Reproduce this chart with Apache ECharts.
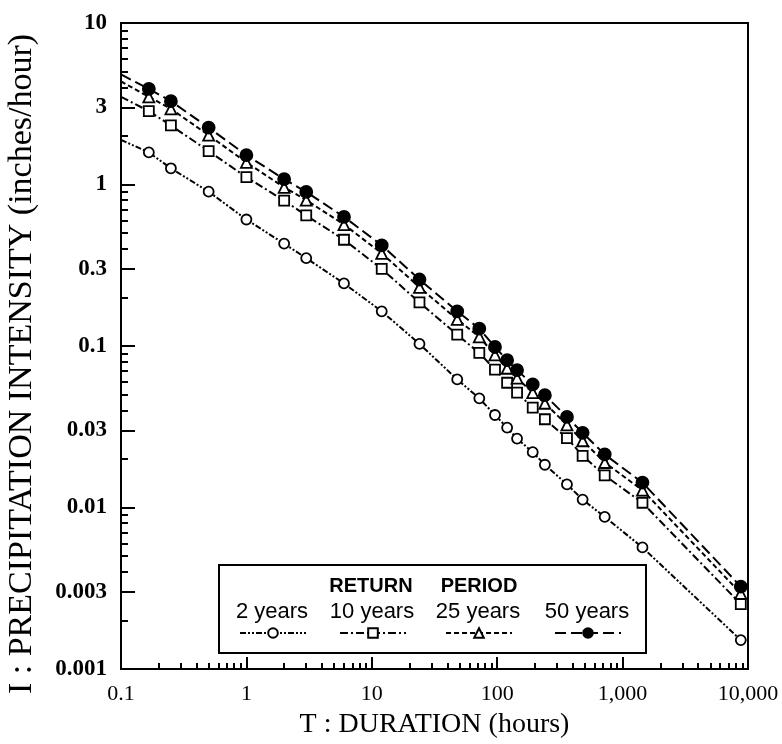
<!DOCTYPE html>
<html>
<head>
<meta charset="utf-8">
<script src="https://cdn.jsdelivr.net/npm/echarts@6/dist/echarts.min.js"></script>
<style>
html,body{margin:0;padding:0;background:#fff;}
#chart{width:782px;height:744px;}
</style>
</head>
<body>
<div id="chart"></div>
<script>
// Durations (hours); first entry (0.1) is the extrapolated start of each line (no marker)
const durations = [0.1, 0.1667, 0.25, 0.5, 1, 2, 3, 6, 12, 24, 48, 72, 96, 120, 144, 192, 240, 360, 480, 720, 1440, 8760];
const years2  = [1.89, 1.58, 1.26, 0.903, 0.607, 0.43, 0.35, 0.244, 0.164, 0.103, 0.0621, 0.0474, 0.0374, 0.0312, 0.0267, 0.022, 0.0184, 0.0139, 0.0112, 0.00874, 0.00566, 0.00151];
const years10 = [3.49, 2.85, 2.32, 1.61, 1.11, 0.795, 0.643, 0.455, 0.30, 0.186, 0.1175, 0.0906, 0.0714, 0.0592, 0.0514, 0.0415, 0.0352, 0.0269, 0.0209, 0.0158, 0.0107, 0.00252];
const years25 = [4.35, 3.49, 2.94, 2.02, 1.37, 0.96, 0.80, 0.565, 0.375, 0.231, 0.146, 0.114, 0.088, 0.0728, 0.0632, 0.0515, 0.0442, 0.0325, 0.0259, 0.019, 0.0128, 0.00294];
const years50 = [4.8, 3.91, 3.28, 2.25, 1.52, 1.08, 0.90, 0.63, 0.42, 0.258, 0.164, 0.128, 0.0986, 0.0817, 0.0709, 0.0578, 0.0496, 0.0364, 0.029, 0.0213, 0.01426, 0.00324];

const seriesNames = ['2 years', '10 years', '25 years', '50 years'];

const xTickValues = [0.1, 1, 10, 100, 1000, 10000];
const xTickLabels = ['0.1', '1', '10', '100', '1,000', '10,000'];
const yTickValues = [0.001, 0.003, 0.01, 0.03, 0.1, 0.3, 1, 3, 10];
const yTickLabels = ['0.001', '0.003', '0.01', '0.03', '0.1', '0.3', '1', '3', '10'];

const minorMult = [2, 3, 4, 5, 6, 7, 8, 9];
const xMinor = [];
[0.1, 1, 10, 100, 1000].forEach(d => minorMult.forEach(m => xMinor.push(+(d * m).toPrecision(6))));
const yMinor = [];
[0.001, 0.01, 0.1, 1].forEach(d => [2, 4, 5, 6, 7, 8, 9].forEach(m => yMinor.push(+(d * m).toPrecision(6))));

function lookup(vals, labels) {
  return function (v) {
    for (let i = 0; i < vals.length; i++) {
      if (Math.abs(Math.log10(v) - Math.log10(vals[i])) < 1e-6) return labels[i];
    }
    return '';
  };
}

function buildData(ys) {
  return durations.map((d, i) => i === 0 ? { value: [d, ys[i]], symbol: 'none' } : [d, ys[i]]);
}

const styles = [
  { values: years2,  symbol: 'circle',   size: 10, fill: '#fff', dash: [6, 2, 2, 2, 2, 2] },
  { values: years10, symbol: 'rect',     size: 10, fill: '#fff', dash: [8, 3, 2, 3] },
  { values: years25, symbol: 'triangle', size: 11, fill: '#fff', dash: [5, 3] },
  { values: years50, symbol: 'circle',   size: 12, fill: '#000', dash: [11, 5] }
];

const series = styles.map((s, k) => ({
  name: seriesNames[k],
  type: 'line',
  xAxisIndex: 0,
  yAxisIndex: 0,
  data: buildData(s.values),
  symbol: s.symbol,
  symbolSize: s.size,
  showAllSymbol: true,
  itemStyle: { color: s.fill, borderColor: '#000', borderWidth: 1.8 },
  lineStyle: { color: '#000', width: 2, type: s.dash },
  z: 3 + k,
  animation: false
}));

const legendCenters = [272, 372, 478, 587];
const legends = seriesNames.map((n, k) => ({
  data: [n],
  left: legendCenters[k] - 33,
  top: 627,
  itemWidth: 66,
  itemHeight: 12,
  padding: 0,
  itemGap: 0,
  formatter: () => '',
  textStyle: { fontSize: 1 },
  selectedMode: false,
  z: 10
}));

const serif = '"Liberation Serif", "Times New Roman", serif';
const sans = '"Liberation Sans", Arial, sans-serif';

const option = {
  backgroundColor: '#fff',
  animation: false,
  grid: { left: 121, right: 34, top: 23, bottom: 71, show: true, borderColor: '#000', borderWidth: 2, backgroundColor: 'transparent' },
  legend: legends,
  xAxis: [
    {
      type: 'log', logBase: 10, min: 0.1, max: 10000, position: 'bottom',
      axisLine: { show: true, lineStyle: { color: '#000', width: 2 } },
      axisTick: { show: true, inside: true, length: 12, customValues: xTickValues, lineStyle: { color: '#000', width: 2 } },
      axisLabel: { show: true, customValues: xTickValues, formatter: lookup(xTickValues, xTickLabels), color: '#000', fontFamily: serif, fontSize: 22, margin: 14 },
      splitLine: { show: false },
      minorTick: { show: false },
      name: 'T : DURATION (hours)', nameLocation: 'middle', nameGap: 42,
      nameTextStyle: { color: '#000', fontFamily: serif, fontSize: 28 }
    },
    {
      type: 'log', logBase: 10, min: 0.1, max: 10000, position: 'bottom', gridIndex: 0,
      axisLine: { show: false },
      axisTick: { show: true, inside: true, length: 6, customValues: xMinor, lineStyle: { color: '#000', width: 2 } },
      axisLabel: { show: false },
      splitLine: { show: false }
    }
  ],
  yAxis: [
    {
      type: 'log', logBase: 10, min: 0.001, max: 10, position: 'left',
      axisLine: { show: true, lineStyle: { color: '#000', width: 2 } },
      axisTick: { show: true, inside: true, length: 14, customValues: yTickValues, lineStyle: { color: '#000', width: 2 } },
      axisLabel: { show: true, customValues: yTickValues, formatter: lookup(yTickValues, yTickLabels), color: '#000', fontFamily: serif, fontWeight: 'bold', fontSize: 23, margin: 14 },
      splitLine: { show: false },
      minorTick: { show: false }
    },
    {
      type: 'log', logBase: 10, min: 0.001, max: 10, position: 'left', gridIndex: 0,
      axisLine: { show: false },
      axisTick: { show: true, inside: true, length: 7, customValues: yMinor, lineStyle: { color: '#000', width: 2 } },
      axisLabel: { show: false },
      splitLine: { show: false }
    }
  ],
  graphic: [
    { type: 'rect', z: 5, shape: { x: 219, y: 565, width: 427, height: 88 }, style: { fill: '#fff', stroke: '#000', lineWidth: 2 } },
    { type: 'text', z: 6, x: 371, y: 586, style: { text: 'RETURN', fill: '#000', font: 'bold 20px ' + sans, textAlign: 'center', textVerticalAlign: 'middle' } },
    { type: 'text', z: 6, x: 479, y: 586, style: { text: 'PERIOD', fill: '#000', font: 'bold 20px ' + sans, textAlign: 'center', textVerticalAlign: 'middle' } },
    { type: 'text', z: 6, x: legendCenters[0], y: 612, style: { text: seriesNames[0], fill: '#000', font: '22px ' + sans, textAlign: 'center', textVerticalAlign: 'middle' } },
    { type: 'text', z: 6, x: legendCenters[1], y: 612, style: { text: seriesNames[1], fill: '#000', font: '22px ' + sans, textAlign: 'center', textVerticalAlign: 'middle' } },
    { type: 'text', z: 6, x: legendCenters[2], y: 612, style: { text: seriesNames[2], fill: '#000', font: '22px ' + sans, textAlign: 'center', textVerticalAlign: 'middle' } },
    { type: 'text', z: 6, x: legendCenters[3], y: 612, style: { text: seriesNames[3], fill: '#000', font: '22px ' + sans, textAlign: 'center', textVerticalAlign: 'middle' } },
    { type: 'text', z: 6, x: 22, y: 364, rotation: Math.PI / 2, style: { text: 'I : PRECIPITATION INTENSITY (inches/hour)', fill: '#000', font: '34px ' + serif, textAlign: 'center', textVerticalAlign: 'middle' } }
  ],
  series: series
};

const chart = echarts.init(document.getElementById('chart'), null, { renderer: 'canvas' });
chart.setOption(option);
</script>
</body>
</html>
